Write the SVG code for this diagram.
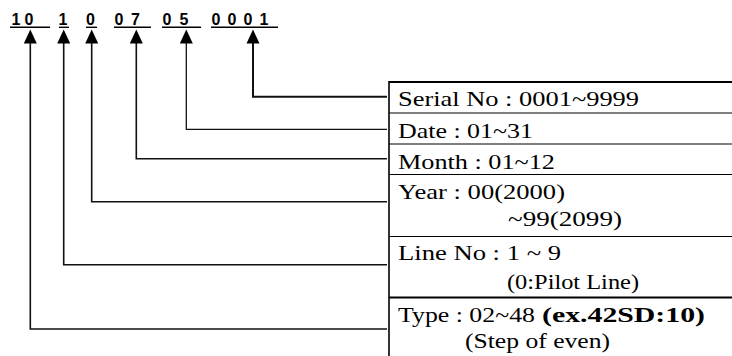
<svg xmlns="http://www.w3.org/2000/svg" width="732" height="356" viewBox="0 0 732 356">
<defs>
<style>
.code{font-family:"Liberation Sans",Arial,sans-serif;font-size:16px;font-weight:bold;fill:#000}
.ul{stroke:#000;stroke-width:1.4}
.lbl{font-family:"Liberation Serif","Times New Roman",serif;font-size:22px;fill:#000}
.b{font-weight:bold}
.conn{fill:none;stroke:#111;stroke-width:1.6}
.sep{stroke:#000;stroke-width:1.2}
.ah{fill:#000}
</style>
</defs>
<rect width="732" height="356" fill="#fff"/>
<g id="code">
<text class="code" x="11.5" y="24.5">1</text><text class="code" x="24.5" y="24.5">0</text>
<line class="ul" x1="10" y1="27.3" x2="50" y2="27.3"/>
<text class="code" x="58.5" y="24.5">1</text>
<line class="ul" x1="59" y1="27.3" x2="69" y2="27.3"/>
<text class="code" x="86" y="24.5">0</text>
<line class="ul" x1="86" y1="27.3" x2="97" y2="27.3"/>
<text class="code" x="114.5" y="24.5">0</text><text class="code" x="131" y="24.5">7</text>
<line class="ul" x1="114" y1="27.3" x2="151" y2="27.3"/>
<text class="code" x="162.5" y="24.5">0</text><text class="code" x="179.5" y="24.5">5</text>
<line class="ul" x1="162" y1="27.3" x2="201" y2="27.3"/>
<text class="code" x="211.5" y="24.5">0</text><text class="code" x="227.5" y="24.5">0</text><text class="code" x="243.5" y="24.5">0</text><text class="code" x="259.5" y="24.5">1</text>
<line class="ul" x1="211" y1="27.3" x2="278" y2="27.3"/>
</g>
<g id="connectors">
<path class="conn" style="stroke-width:2" d="M253 43 V96.7 H387"/>
<path class="conn" style="stroke-width:1.3" d="M186.3 43 V129.3 H387"/>
<path class="conn" d="M136.3 43 V158.7 H387"/>
<path class="conn" d="M91.7 43 V201.7 H387"/>
<path class="conn" d="M63.7 43 V264.7 H387"/>
<path class="conn" d="M30.3 43 V329 H387"/>
<path class="ah" d="M253 29.5 L259.5 43.5 L246.5 43.5 Z"/>
<path class="ah" d="M186.3 29.5 L192.8 43.5 L179.8 43.5 Z"/>
<path class="ah" d="M136.3 29.5 L142.8 43.5 L129.8 43.5 Z"/>
<path class="ah" d="M91.7 29.5 L98.2 43.5 L85.2 43.5 Z"/>
<path class="ah" d="M63.7 29.5 L70.2 43.5 L57.2 43.5 Z"/>
<path class="ah" d="M30.3 29.5 L36.8 43.5 L23.8 43.5 Z"/>
</g>
<g id="table">
<line x1="389" y1="82" x2="732" y2="82" stroke="#000" stroke-width="2.2"/>
<line x1="389" y1="81" x2="389" y2="356" stroke="#000" stroke-width="1.6"/>
<line class="sep" x1="389" y1="113" x2="732" y2="113"/>
<line class="sep" x1="389" y1="144" x2="732" y2="144"/>
<line class="sep" x1="389" y1="174.5" x2="732" y2="174.5"/>
<line class="sep" x1="389" y1="236.5" x2="732" y2="236.5"/>
<line x1="389" y1="297.5" x2="732" y2="297.5" stroke="#000" stroke-width="2.2"/>
</g>
<g id="serial"><text class="lbl" x="398" y="106" textLength="241" lengthAdjust="spacingAndGlyphs">Serial No : 0001~9999</text></g>
<g id="date"><text class="lbl" x="398" y="137.5" textLength="135" lengthAdjust="spacingAndGlyphs">Date : 01~31</text></g>
<g id="month"><text class="lbl" x="398" y="168.5" textLength="157" lengthAdjust="spacingAndGlyphs">Month : 01~12</text></g>
<g id="year">
<text class="lbl" x="398" y="199" textLength="167" lengthAdjust="spacingAndGlyphs">Year : 00(2000)</text>
<text class="lbl" x="508" y="226" textLength="114" lengthAdjust="spacingAndGlyphs">~99(2099)</text>
</g>
<g id="line">
<text class="lbl" x="398" y="260" textLength="163" lengthAdjust="spacingAndGlyphs">Line No : 1 ~ 9</text>
<text class="lbl" x="507" y="289" textLength="132" lengthAdjust="spacingAndGlyphs">(0:Pilot Line)</text>
</g>
<g id="type">
<text class="lbl" x="398" y="321.5" textLength="137" lengthAdjust="spacingAndGlyphs">Type : 02~48</text>
<text class="lbl b" x="542" y="321.5" textLength="163" lengthAdjust="spacingAndGlyphs">(ex.42SD:10)</text>
<text class="lbl" x="465" y="347.5" textLength="145" lengthAdjust="spacingAndGlyphs">(Step of even)</text>
</g>
</svg>
